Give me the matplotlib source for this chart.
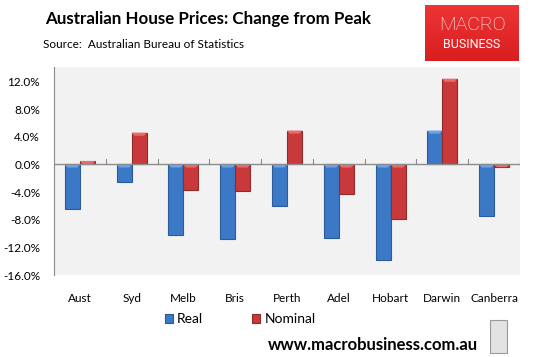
import matplotlib
matplotlib.use("Agg")
import matplotlib.pyplot as plt
import numpy as np
from matplotlib.patches import Rectangle

cities = ["Aust", "Syd", "Melb", "Bris", "Perth", "Adel", "Hobart", "Darwin", "Canberra"]
real = [-6.5, -2.6, -10.2, -10.8, -6.0, -10.7, -13.9, 4.9, -7.4]
nominal = [0.5, 4.6, -3.7, -3.9, 4.9, -4.3, -7.9, 12.4, -0.4]
yticks = [-16, -12, -8, -4, 0, 4, 8, 12]

W, H = 535, 357
plt.rcParams['font.family'] = ['Lato', 'DejaVu Sans']

fig = plt.figure(figsize=(W / 100, H / 100), dpi=100)
fig.patch.set_facecolor("white")

ax = fig.add_axes([54 / W, (H - 275) / H, 466 / W, 208 / H])
ax.set_facecolor("#f2f2f2")

x = np.arange(len(cities))
bw = 0.29
series = [
    (real, x - bw / 2, "#3b78c6", "#2b5b99", "#6aa6ec", "Real"),
    (nominal, x + bw / 2, "#c9393b", "#8f2b2b", "#ec6a6a", "Nominal"),
]
for vals, pos, col, edge, light, lab in series:
    ax.bar(pos, vals, bw, color=col, edgecolor=edge, linewidth=0.8, zorder=3, label=lab)
    # bevel highlight along the top of each bar
    for p, v in zip(pos, vals):
        top = max(v, 0)
        d = min(0.45, abs(v))
        inset = bw * 0.18
        ax.fill([p - bw / 2, p + bw / 2, p + bw / 2 - inset, p - bw / 2 + inset],
                [top, top, top - d, top - d], color=light, zorder=4, linewidth=0)

ax.set_xlim(-0.5, len(cities) - 0.5)
ax.set_ylim(-16, 14.1)
ax.set_yticks(yticks)
ax.set_yticklabels([f"{v:.1f}%" for v in yticks], fontsize=8.5)
ax.tick_params(axis="y", length=0, pad=10)

for s in ["top", "right", "bottom"]:
    ax.spines[s].set_visible(False)
ax.spines["left"].set_color("#8c8c8c")

# zero axis with category separators
ax.axhline(0, color="#8c8c8c", linewidth=1, zorder=5)
for b in np.arange(0.5, len(cities) - 0.4, 1.0):
    ax.plot([b, b], [0, 0.8], color="#8c8c8c", linewidth=0.8, zorder=5)

ax.set_xticks(x)
ax.set_xticklabels(cities, fontsize=8.5)
ax.tick_params(axis="x", length=0, pad=13)

# titles
fig.text(45 / W, 1 - 19 / H, "Australian House Prices: Change from Peak", fontsize=12.2,
         fontweight="bold", va="center", ha="left")
fig.text(43 / W, 1 - 45 / H, "Source:  Australian Bureau of Statistics", fontsize=8.5,
         va="center", ha="left")

# logo
logo = fig.add_axes([425 / W, 1 - 61 / H, 94 / W, 56 / H])
grad = np.linspace(0, 1, 100).reshape(-1, 1)
logo.imshow(grad, cmap=matplotlib.colors.LinearSegmentedColormap.from_list("r", ["#ee3535", "#d81e1e"]),
            aspect="auto", extent=[0, 1, 0, 1])
logo.set_xlim(0, 1)
logo.set_ylim(0, 1)
logo.axis("off")
logo.text(0.5, 0.64, "MACRO", color="white", fontsize=14, ha="center", va="center",
          family=["Roboto", "DejaVu Sans"], fontweight="light")
logo.text(0.5, 0.3, "BUSINESS", color="white", fontsize=9, ha="center", va="center",
          family=["Roboto", "DejaVu Sans"])

# legend
leg = fig.legend(loc="center", bbox_to_anchor=(240 / W, 1 - 319 / H), ncol=2, frameon=False,
                 fontsize=10, handlelength=0.6, handleheight=0.6, handletextpad=0.3, columnspacing=3.5)

# footer
fig.text(478 / W, 1 - 345 / H, "www.macrobusiness.com.au", fontsize=12, fontweight="bold",
         ha="right", va="center")
fig.patches.append(Rectangle((490 / W, 1 - 353 / H), 17 / W, 33 / H, transform=fig.transFigure,
                             facecolor="#e3e3e3", edgecolor="#9a9a9a", linewidth=0.8))

fig.savefig("out.png", dpi=100)
